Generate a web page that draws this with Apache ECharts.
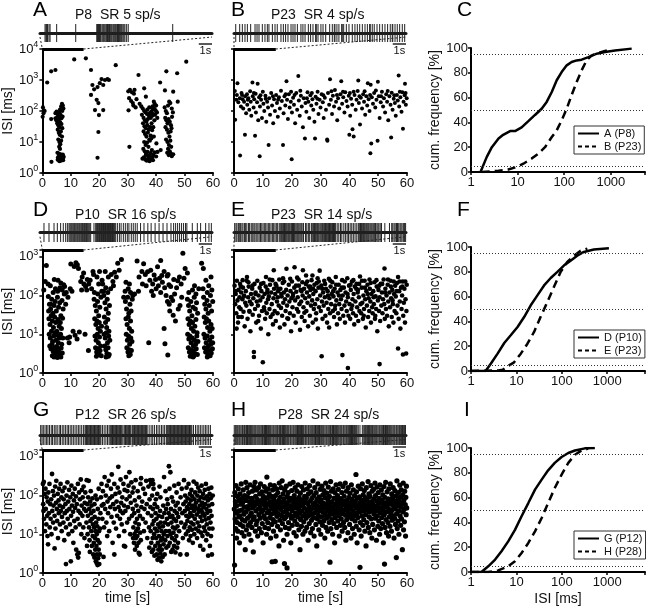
<!DOCTYPE html>
<html><head><meta charset="utf-8">
<script src="https://cdn.jsdelivr.net/npm/echarts@6/dist/echarts.min.js"></script>
<style>html,body{margin:0;padding:0;background:#fff}#c{width:648px;height:609px}</style>
</head><body><div id="c"></div>
<script>
// ---------------- DATA ----------------
const timeTicks = [0,10,20,30,40,50,60];
const refLevels = [5,50,95];
const titles = ['P8  SR 5 sp/s','P23  SR 4 sp/s','P10  SR 16 sp/s','P23  SR 14 sp/s','P12  SR 26 sp/s','P28  SR 24 sp/s'];
const letters = ['A','B','C','D','E','F','G','H','I'];
const cumNames = [['A (P8)','B (P23)'],['D (P10)','E (P23)'],['G (P12)','H (P28)']];

// scatter: [time s, ISI ms]
const scatterA = [[1.7,830],[3.1,1900],[4.6,2100],[11.2,4600],[15.3,5000],[17.1,2100],[25.8,3000],[33.8,1450],[43.6,1900],[47.4,1650],[50.6,3900],[41.4,830],[43.1,460],[46,420],[47.6,200],
[0.2,130],[0.5,105],[0.4,85],[0.1,65],[0.8,100],[3.1,55],[3.2,2.3],[4.6,58],[4.6,85],[4.9,50],
[5.0,95],[5.3,80],[5.6,70],[5.9,90],[6.2,110],[6.6,140],[6.9,170],[7.2,150],[7.4,120],[7.0,100],
[5.1,60],[5.5,55],[5.8,48],[6.1,62],[6.4,75],[6.7,58],[7.1,66],[5.2,40],[5.6,35],[6.0,30],[6.3,42],[6.7,38],[7.0,28],
[5.4,25],[5.8,20],[6.1,17],[6.5,22],[6.9,15],[5.6,12],[6.0,10],[6.3,8.5],[6.6,11],[5.9,7],[6.2,6],
[5.3,4.5],[5.5,3.2],[5.7,2.8],[5.9,3.6],[6.1,2.6],[6.3,3.1],[6.5,2.5],[6.7,3.4],[6.9,2.8],[7.1,3.0],[7.3,2.6],[7.5,3.3],[5.8,4.2],[6.4,4.0],[7.0,3.8],[6.0,2.4],[6.6,2.9],[7.2,3.9],[5.4,2.7],
[17.6,690],[19.4,590],[20.2,790],[20.8,1070],[22.0,1000],[22.9,1070],[23.4,1000],[21.4,690],[19.1,230],[19.7,180],[18.5,107],[19.9,74],[21.4,107],[19.7,21],[19.4,3.1],[17.1,330],[18.2,500],
[30.2,430],[30.8,480],[31.5,400],[32.2,360],[30.5,260],[31.2,210],[32,150],[32.8,130],[31.8,180],[33.1,240],[30.3,105],[30.6,7],[32.4,480],[35.8,540],[36.4,290],
[34.2,170],[34.8,140],[35.3,120],[35.8,100],[36.3,90],[36.8,80],[37.3,75],[37.8,85],[38.3,95],[38.8,110],[39.3,120],[39.8,105],[40.3,90],
[35,75],[35.6,60],[36.1,50],[36.6,45],[37.1,55],[37.6,65],[38.1,60],[38.6,70],[39.1,80],[39.6,75],
[35.4,40],[35.9,32],[36.4,28],[36.9,35],[37.4,25],[37.9,30],[38.4,40],[39.4,50],
[35.6,22],[36.1,18],[36.6,15],[37.1,20],[37.6,12],[38.1,16],[38.6,24],[39.0,30],
[35.8,10],[36.3,8],[36.8,9.5],[37.3,7],[37.8,11],[38.3,13],[39.2,15],[40.1,9],
[35.5,6],[36.0,5],[36.5,4.2],[37,4.8],[37.5,3.6],[38,4.4],[38.5,5.5],[39,3.9],[39.5,4.6],[40,3.4],
[35.7,3.2],[36.2,2.7],[36.7,2.5],[37.2,3.0],[37.7,2.4],[38.2,2.8],[38.7,3.3],[36.4,3.8],[37.4,3.4],[38.9,2.6],[35.2,2.9],
[38.8,140],[39.5,170],[40.0,150],[39.2,200],[36.9,110],[37.6,130],[40.4,60],[40.5,4.8],[41.6,5.5],
[43.0,130],[43.4,100],[43.8,85],[44.2,150],[44.6,200],[45.0,180],[45.5,120],[45.9,90],
[43.2,60],[43.6,50],[44.0,40],[44.4,55],[44.8,45],[45.2,35],[45.6,65],[43.3,30],[43.8,25],[44.3,20],[44.7,15],[45.1,22],[45.4,28],
[43.5,12],[44,10],[44.5,8],[45,11],[45.3,7],[44.2,6],[44.8,5],[45.2,4.2],[43.9,4.5],[44.4,3.8],[45.5,3.5],[46.0,4]];

const scatterB = [[0.3,440],[0.4,52],[1.0,330],[1.2,780],[1.5,190],[2.0,260],[2.1,3.7],[2.4,140],[2.6,380],[3.0,240],[3.2,120],[3.5,200],[3.8,17],[3.9,300],[4.2,85],[4.5,350],[4.6,160],[5.0,260],[5.3,110],[5.6,430],[5.8,200],[6.0,70],[6.4,830],[6.5,300],[6.8,130],[7.0,240],[7.3,16],[7.5,360],[7.6,90],[8.0,190],[8.2,750],[8.4,50],[8.7,280],[8.9,3.5],[9.0,140],[9.4,230],[9.7,60],[10.0,420],[10.2,170],[10.5,100],[10.9,310],[11.2,45],[11.5,200],[11.8,130],[12.0,8],[12.2,260],[12.5,75],[12.9,380],[13.2,150],[13.6,40],[13.9,240],[14.2,100],[14.6,330],[14.9,180],[15.2,65],[15.6,280],[15.9,120],[16.3,450],[16.6,210],[17.0,8],[17.2,85],[17.5,300],[17.8,150],[18.2,910],[18.4,230],[18.7,55],[19.0,350],[19.3,130],[19.7,200],[20.0,2.8],[20.1,90],[20.5,270],[20.8,160],[21.2,40],[21.6,380],[21.9,110],[22.3,1350],[22.5,220],[22.8,70],[23.2,310],[23.5,140],[23.9,30],[24.2,260],[24.6,13],[24.8,180],[25.1,95],[25.5,400],[25.8,200],[26.1,60],[26.5,320],[26.8,150],[27.2,240],[27.5,110],[27.9,45],[28.1,13],[28.3,290],[28.6,170],[29.0,420],[29.3,80],[29.7,230],[30.0,130],[30.4,350],[30.8,190],[31.1,60],[31.5,270],[31.9,110],[32.3,12],[32.4,11],[32.6,380],[33.0,160],[33.3,1050],[33.6,230],[34.0,80],[34.3,310],[34.7,140],[35.0,480],[35.4,200],[35.8,50],[36.1,260],[36.5,120],[36.9,350],[37.2,910],[37.5,170],[37.9,280],[38.3,90],[38.6,400],[39.0,210],[39.4,140],[39.8,310],[40.0,17],[40.3,70],[40.6,250],[41.0,160],[41.1,26],[41.5,15],[41.8,330],[42.2,110],[42.5,230],[42.9,440],[43.1,960],[43.3,180],[43.7,37],[44.0,270],[44.4,120],[44.8,350],[45.1,200],[45.5,75],[45.9,300],[46.2,150],[46.4,790],[46.7,240],[47.0,100],[47.3,4.3],[47.4,700],[47.6,9],[47.8,280],[48.2,170],[48.6,380],[49.0,130],[49.4,230],[49.8,11],[49.9,870],[50.2,300],[50.5,60],[50.9,190],[51.3,420],[51.7,140],[52.0,260],[52.4,90],[52.8,350],[53.1,200],[53.5,50],[53.9,300],[54.3,160],[54.5,14],[54.7,390],[55.0,110],[55.4,250],[55.8,180],[56.1,70],[56.5,330],[56.8,220],[57.1,1400],[57.3,140],[57.7,280],[58.1,95],[58.4,400],[58.6,27],[58.8,200],[59.2,320],[59.3,750],[59.6,160],[59.9,260],
[0.8,230],[2.8,330],[4.8,230],[6.9,380],[9.2,320],[11.0,250],[13.5,300],[15.3,230],[17.9,350],[19.8,420],[21.0,330],[23.0,450],[25.3,260],[27.0,380],[28.9,250],[31.0,320],[33.8,430],[35.7,330],[37.8,420],[40.2,380],[41.5,420],[43.5,300],[45.3,430],[47.2,330],[49.2,460],[51.0,300],[53.3,440],[55.6,320],[57.5,420],[59.5,380]];

const scatterD = [[2.1,95],[2.5,60],[2.9,45],[3.3,80],[3.7,35],[4.1,55],[4.5,70],[4.9,40],[5.3,90],[5.7,50],[6.1,65],[6.5,30],[6.9,75],[7.3,45],[7.7,110],
[2.3,25],[2.7,18],[3.1,30],[3.5,22],[3.9,15],[4.3,28],[4.7,20],[5.1,12],[5.5,24],[5.9,16],[6.3,20],[6.7,14],[7.1,26],
[2.4,10],[2.8,8],[3.2,12],[3.6,6.5],[4.0,9],[4.4,11],[4.8,7],[5.2,9.5],[5.6,6],[6.0,8],[6.4,10],[6.8,5.5],[7.2,8],
[2.6,5],[3.0,4.2],[3.4,5.5],[3.8,3.6],[4.2,4.5],[4.6,3.2],[5.0,4.8],[5.4,3.5],[5.8,4.0],[6.2,3.0],[6.6,4.4],[7.0,3.3],
[3.5,2.8],[4.1,2.6],[4.7,2.9],[5.3,2.5],[5.9,2.7],[6.5,2.6],[4.4,3.8],[5.6,2.9],
[2.2,40],[3.0,60],[3.8,120],[4.6,150],[5.4,130],[6.2,160],[7.0,140],[7.8,170],[8.4,120],[9.0,90],[8.2,60],[8.8,8],[9.6,8.5],
[0.5,140],[1.4,600],[2.0,200],[1.0,230],[2.8,180],[4.2,260],[5.5,250],[6.5,210],[7.5,190],[9.4,6],[10.0,650],[11.2,560],[12.7,500],[12.3,620],[11.8,700],[13.5,230],[14.0,300],[14.6,200],[15.2,170],[15.8,260],[16.3,200],[14.5,380],[16.8,250],[17.3,150],[17.8,420],[15.0,10],[16.2,3.8],[10.8,12],[11.5,9.5],[12.2,7.5],[13.0,11.5],[9.8,150],[10.4,130],[13.8,140],[15.6,140],
[18.2,80],[18.6,55],[19.0,40],[19.4,70],[19.8,30],[20.2,50],[20.6,90],[18.4,25],[18.8,18],[19.2,22],[19.6,14],[20.0,20],[20.4,12],[20.8,16],[18.5,9],[18.9,7],[19.3,10],[19.7,6],[20.1,8.5],[20.5,5],[18.7,4.5],[19.1,3.5],[19.5,4.2],[19.9,3.0],[20.3,3.8],[20.7,2.8],[19.0,2.7],[19.8,3.3],[18.3,120],[19.5,110],[20.9,130],
[21.6,100],[22.0,65],[22.4,45],[22.8,80],[23.2,35],[23.6,55],[21.8,28],[22.2,20],[22.6,15],[23.0,24],[23.4,12],[21.7,10],[22.1,8],[22.5,11],[22.9,6],[23.3,9],[23.7,7],[21.9,5],[22.3,4],[22.7,3.2],[23.1,4.5],[23.5,3],[22.4,2.6],[23.2,2.7],[21.5,130],[22.3,160],[23.0,120],
[18.0,350],[19.2,300],[20.1,420],[21.0,250],[22.1,420],[23.2,300],[24.2,350],[24.8,230],[25.4,400],[26.0,300],[25.0,180],[26.5,680],[27.8,850],[27.0,450],[24.0,150],[21.2,200],[19.8,200],
[29.2,70],[29.6,45],[30.0,90],[30.4,35],[30.8,60],[31.2,40],[31.6,80],[29.4,25],[29.8,18],[30.2,28],[30.6,14],[31.0,22],[31.4,12],[29.5,10],[29.9,7],[30.3,9],[30.7,5.5],[31.1,8],[31.5,6.5],[29.7,4.5],[30.1,3.5],[30.5,4],[30.9,3],[31.3,3.8],[30.4,2.8],[29.1,130],[30.2,150],[31.0,120],[31.8,100],[30.6,200],[29.4,220],[28.6,90],[32.4,110],
[33.3,780],[35.6,660],[37.0,410],[38.1,450],[39.3,340],[40.5,550],[41.6,800],[42.8,420],[43.9,320],[44.5,190],[45.1,170],[45.3,90],[46.0,31],[42.8,14],[43.1,5.7],[44.1,2.9],[37.4,6],[41.6,120],[34.0,300],[35.0,420],[36.2,350],[37.8,250],[38.8,200],[39.8,260],[40.8,180],[41.2,280],[42.2,220],[43.0,160],[43.5,100],[44.0,70],[44.8,40],[44.6,60],[45.8,75],[46.5,110],[47.2,160],[47.6,240],[48.2,300],[48.8,200],[49.4,1230],[49.0,90],[48.4,55],[47.8,45],[50.2,500],[51.0,380],[49.8,280],[36.5,180],[38.4,130],[39.0,100],[40.0,150],[46.8,22],[33.8,130],[35.2,200],[42.0,330],[44.2,350],[46.2,260],
[51.0,80],[51.4,55],[51.8,40],[52.2,70],[52.6,30],[53.0,50],[53.4,90],[53.8,45],[54.2,65],[54.6,35],
[51.2,25],[51.6,18],[52.0,22],[52.4,14],[52.8,20],[53.2,12],[53.6,16],[54.0,24],[54.4,11],
[51.1,10],[51.5,7.5],[51.9,9],[52.3,6],[52.7,8],[53.1,5],[53.5,7],[53.9,5.5],[54.3,9],[54.7,6.5],
[51.3,4.5],[51.7,3.5],[52.1,4],[52.5,3],[52.9,3.8],[53.3,2.8],[53.7,3.2],[54.1,4.2],[54.5,3],[52.0,2.7],[53.0,2.6],
[51.5,120],[52.8,140],[54.0,110],[55.0,150],[53.5,180],
[56.7,90],[57.1,60],[57.5,45],[57.9,75],[58.3,35],[58.7,55],[59.1,100],[59.5,40],[59.9,70],
[56.9,28],[57.3,20],[57.7,25],[58.1,15],[58.5,22],[58.9,12],[59.3,18],[59.7,14],
[56.8,10],[57.2,8],[57.6,6],[58.0,9],[58.4,5],[58.8,7],[59.2,5.5],[59.6,8.5],[59.9,6],
[57.0,4.5],[57.4,3.5],[57.8,4],[58.2,3],[58.6,3.8],[59.0,2.8],[59.4,3.3],[59.8,4.2],[58.0,2.6],
[56.0,680],[56.6,500],[57.5,250],[58.5,180],[59.3,300],[56.5,150],[58.0,120],[59.6,140]];

const scatterE = [[0.2,180],[0.4,60],[0.6,110],[0.8,35],[1.0,240],[1.2,75],[1.4,20],[1.6,140],[1.8,50],[1.9,90],[0.9,14],
[2.1,200],[2.3,45],[2.5,120],[2.7,28],[2.9,80],[3.1,160],[3.3,38],[3.5,100],[3.7,16],[3.9,65],[3.0,250],
[4.1,130],[4.3,55],[4.5,300],[4.7,25],[4.9,90],[5.1,170],[5.3,40],[5.5,70],[5.7,12],[5.9,110],[5.0,220],
[6.1,60],[6.3,150],[6.5,32],[6.7,85],[6.9,3.5],[6.9,2.6],[7.1,200],[7.3,45],[7.5,120],[7.7,20],[7.9,70],
[8.1,240],[8.3,55],[8.5,100],[8.7,30],[8.9,160],[9.1,75],[9.3,14],[9.5,130],[9.7,40],[9.9,90],[10.0,1.9],
[10.2,210],[10.4,50],[10.6,110],[10.8,25],[11.0,170],[11.2,65],[11.4,35],[11.6,140],[11.8,80],[11.9,10],[11.1,300],
[12.1,95],[12.3,45],[12.5,190],[12.7,28],[12.9,120],[13.1,60],[13.3,250],[13.5,18],[13.7,85],[13.8,450],[13.9,150],
[14.1,40],[14.3,110],[14.5,22],[14.7,180],[14.9,70],[15.1,35],[15.3,130],[15.5,55],[15.7,260],[15.9,15],[15.2,90],
[16.1,150],[16.3,48],[16.5,95],[16.7,30],[16.9,210],[17.1,65],[17.3,120],[17.5,18],[17.7,80],[17.9,40],[17.0,280],
[18.1,140],[18.2,490],[18.4,55],[18.6,100],[18.8,25],[19.0,190],[19.2,70],[19.4,35],[19.6,130],[19.8,12],[19.9,85],
[20.1,230],[20.3,50],[20.5,110],[20.7,30],[20.9,160],[21.0,540],[21.2,75],[21.4,20],[21.6,125],[21.8,45],[21.9,290],
[22.1,90],[22.3,38],[22.5,180],[22.7,60],[22.9,13],[23.1,140],[23.3,70],[23.5,28],[23.7,220],[23.9,450],[23.8,100],
[24.1,50],[24.3,150],[24.5,22],[24.7,85],[24.9,200],[25.1,40],[25.3,120],[25.5,65],[25.7,16],[25.9,170],[25.0,330],
[26.1,95],[26.3,30],[26.5,140],[26.7,55],[26.9,250],[27.1,75],[27.3,20],[27.5,110],[27.7,45],[27.9,190],[27.2,330],
[28.1,60],[28.3,130],[28.5,35],[28.7,210],[28.9,80],[29.1,14],[29.3,160],[29.5,50],[29.7,440],[29.9,100],[29.0,280],
[30.1,40],[30.3,180],[30.4,2.7],[30.5,70],[30.7,25],[30.9,120],[31.1,55],[31.3,240],[31.5,90],[31.7,30],[31.9,150],
[32.1,65],[32.3,20],[32.5,130],[32.7,45],[32.9,270],[33.1,85],[33.3,35],[33.5,170],[33.7,60],[33.9,110],[33.0,15],
[34.1,220],[34.3,40],[34.5,95],[34.7,28],[34.9,150],[35.1,55],[35.3,300],[35.5,75],[35.7,18],[35.9,120],[35.0,45],
[36.1,35],[36.3,190],[36.5,60],[36.7,25],[36.9,140],[37.1,80],[37.3,45],[37.5,250],[37.6,2.9],[37.7,100],[37.9,30],
[38.1,160],[38.3,55],[38.5,20],[38.7,120],[38.9,70],[39.1,40],[39.3,280],[39.5,1.35],[39.5,90],[39.7,30],[39.9,180],
[40.1,60],[40.3,25],[40.5,140],[40.7,45],[40.9,230],[41.1,80],[41.3,35],[41.5,110],[41.7,18],[41.9,170],[41.0,55],
[42.1,70],[42.3,30],[42.5,200],[42.7,50],[42.9,120],[43.1,22],[43.3,90],[43.5,40],[43.7,310],[43.9,60],[43.0,140],
[44.1,35],[44.3,160],[44.5,65],[44.7,25],[44.9,100],[45.1,45],[45.3,240],[45.5,80],[45.7,15],[45.9,130],[45.0,30],
[46.1,55],[46.3,190],[46.5,28],[46.7,85],[46.9,40],[47.1,150],[47.3,70],[47.5,20],[47.7,110],[47.9,50],[47.0,260],
[48.1,35],[48.3,130],[48.5,60],[48.7,220],[48.9,25],[49.1,95],[49.3,45],[49.5,170],[49.7,12],[49.9,75],[49.0,30],
[50.1,140],[50.3,40],[50.5,1.7],[50.5,90],[50.7,22],[50.9,200],[51.1,55],[51.3,120],[51.5,35],[51.7,80],[51.9,260],
[52.1,60],[52.2,500],[52.3,25],[52.5,150],[52.7,45],[52.9,100],[53.1,30],[53.3,190],[53.5,70],[53.7,16],[53.9,120],
[54.1,50],[54.3,240],[54.5,85],[54.7,28],[54.9,140],[55.1,60],[55.3,20],[55.5,110],[55.7,40],[55.9,180],[55.0,75],
[56.1,95],[56.3,35],[56.5,210],[56.7,55],[56.9,300],[56.9,4.3],[57.1,25],[57.3,130],[57.5,70],[57.7,14],[57.9,160],
[58.1,45],[58.3,100],[58.5,230],[58.6,3.0],[58.7,30],[58.9,65],[59.1,150],[59.3,20],[59.5,80],[59.7,3.2],[59.9,190],[59.8,40],
[0.5,130],[1.5,28],[2.4,170],[3.4,95],[4.4,240],[5.4,38],[6.4,180],[7.4,110],[8.4,22],[9.4,200],[10.5,42],[11.5,120],[12.4,260],[13.4,33],[14.4,200],[15.4,150],[16.4,110],[17.4,230],[18.5,26],[19.5,270],[20.4,95],[21.5,180],[22.4,260],[23.4,130],[24.4,36],[25.4,230],[26.4,170],[27.4,150],[28.4,24],[29.4,230],[30.6,150],[31.6,200],[32.6,100],[33.4,240],[34.4,130],[35.4,190],[36.4,100],[37.4,160],[38.4,230],[39.4,110],[40.4,190],[41.4,250],[42.4,150],[43.4,200],[44.4,240],[45.4,160],[46.4,110],[47.4,210],[48.4,90],[49.4,250],[50.4,180],[51.4,200],[52.4,120],[53.4,260],[54.4,170],[55.4,230],[56.4,130],[57.4,230],[58.4,170],[59.4,230]];

const scatterG = [[0.2,200],[0.3,60],[0.5,225],[0.6,25],[0.8,110],[0.9,12],[0.4,40],
[1.1,150],[1.2,45],[1.4,18],[1.5,90],[1.7,30],[1.8,9],[1.9,70],
[2.0,5.5],[2.1,120],[2.3,35],[2.5,200],[2.6,15],[2.8,60],[2.9,25],
[3.1,80],[3.2,10],[3.4,360],[3.5,40],[3.7,130],[3.8,20],[3.9,55],
[4.1,100],[4.3,4.3],[4.3,30],[4.5,170],[4.6,14],[4.8,65],[4.9,240],
[5.1,45],[5.2,22],[5.4,110],[5.5,8],[5.7,75],[5.8,35],[5.9,150],
[6.1,55],[6.2,18],[6.4,200],[6.5,40],[6.7,90],[6.8,12],[6.9,28],
[7.1,130],[7.2,50],[7.4,20],[7.5,80],[7.7,7],[7.8,160],[7.9,35],
[8.1,60],[8.3,1.7],[8.3,15],[8.5,100],[8.6,40],[8.8,220],[8.9,25],
[9.1,70],[9.2,10],[9.4,140],[9.5,45],[9.7,18],[9.8,90],[10.0,2],
[10.1,30],[10.2,180],[10.4,55],[10.5,12],[10.7,110],[10.8,38],[10.9,6],
[11.1,75],[11.2,22],[11.4,150],[11.5,48],[11.7,15],[11.8,95],[11.9,4],
[12.1,60],[12.3,3],[12.4,25],[12.5,200],[12.6,2.5],[12.7,40],[12.9,120],[12.8,3.3],
[13.1,18],[13.2,80],[13.4,35],[13.5,260],[13.7,10],[13.8,55],[13.9,140],
[14.1,30],[14.2,90],[14.4,15],[14.5,170],[14.7,45],[14.8,8],[14.9,65],
[15.1,120],[15.3,40],[15.5,20],[15.6,250],[15.8,60],[15.9,10],[15.7,5],
[16.0,30],[16.1,90],[16.3,240],[16.4,15],[16.5,45],[16.6,7],[16.8,70],[16.9,22],[16.7,3.5],
[17.0,130],[17.1,35],[17.2,12],[17.3,55],[17.4,5],[17.5,25],[17.6,85],[17.7,9],[17.8,18],[17.9,3],
[18.0,40],[18.1,6],[18.2,15],[18.3,2.5],[18.4,28],[18.5,8],[18.6,4],[18.7,12],[18.8,2],[18.9,20],[18.3,60],[18.7,100],
[19.0,5],[19.1,1.8],[19.1,10],[19.2,3],[19.3,16],[19.4,1.6],[19.5,7],[19.6,2.4],[19.7,25],[19.8,4],[19.9,12],[19.5,45],[19.2,80],[19.8,150],
[20.0,1.7],[20.1,6],[20.2,3],[20.3,14],[20.4,35],[20.6,90],[20.8,200],[20.9,55],
[21.1,25],[21.3,130],[21.5,2.6],[21.5,60],[21.7,15],[21.9,300],
[22.1,45],[22.3,100],[22.5,20],[22.7,180],[22.9,70],[22.8,9],
[23.1,35],[23.3,240],[23.5,12],[23.7,85],[23.9,50],
[24.1,150],[24.3,28],[24.5,95],[24.7,6],[24.9,60],[24.4,350],
[25.1,20],[25.3,3],[25.3,200],[25.5,45],[25.7,110],[25.9,14],
[26.1,70],[26.3,30],[26.5,160],[26.7,550],[26.8,50],[26.9,9],
[27.1,120],[27.3,25],[27.5,260],[27.7,65],[27.9,18],[27.4,40],
[28.1,90],[28.3,35],[28.5,200],[28.7,5],[28.7,55],[28.9,140],[28.8,12],
[29.1,4.8],[29.2,40],[29.4,300],[29.6,80],[29.8,20],[29.9,130],
[30.1,50],[30.3,180],[30.5,25],[30.7,95],[30.9,10],[30.6,400],
[31.1,65],[31.3,220],[31.5,30],[31.7,120],[31.9,8],[31.8,45],
[32.0,15],[32.1,160],[32.2,6],[32.3,35],[32.4,10],[32.5,75],[32.6,4],[32.7,20],[32.8,250],[32.9,8],
[33.0,12],[33.1,55],[33.2,5],[33.3,25],[33.4,9],[33.5,130],[33.6,14],[33.7,40],[33.8,6],[33.9,3.3],[33.9,18],
[34.0,90],[34.2,3],[34.3,30],[34.4,11],[34.5,200],[34.7,280],[34.8,50],[34.6,7],
[35.1,70],[35.3,25],[35.5,150],[35.7,12],[35.9,45],
[36.1,110],[36.3,20],[36.5,240],[36.7,60],[36.9,8],
[37.1,35],[37.3,170],[37.5,15],[37.7,80],[37.9,250],[37.6,4.5],
[38.0,50],[38.1,12],[38.2,200],[38.3,6],[38.4,30],[38.5,3.5],[38.6,100],[38.7,18],[38.8,8],[38.9,45],[38.7,250],
[39.0,4],[39.1,150],[39.2,22],[39.3,10],[39.4,2.8],[39.5,60],[39.6,14],[39.7,5],[39.8,35],[39.9,80],[39.0,200],
[40.0,8],[40.1,25],[40.2,3],[40.3,12],[40.4,50],[40.5,2.2],[40.6,6],[40.7,18],[40.8,4],[40.9,30],[40.4,110],
[41.0,9],[41.1,2.5],[41.2,15],[41.3,5],[41.4,40],[41.5,3.2],[41.6,20],[41.7,7],[41.8,2],[41.9,12],[41.5,90],[41.2,170],
[42.0,4],[42.1,28],[42.2,8],[42.3,2.6],[42.4,16],[42.5,55],[42.6,5.5],[42.7,10],[42.8,300],[42.9,35],
[43.0,3],[43.1,20],[43.2,7],[43.3,130],[43.4,12],[43.5,45],[43.6,4.5],[43.8,25],[43.9,80],
[44.0,9],[44.1,60],[44.2,18],[44.3,5],[44.4,35],[44.5,570],[44.6,12],[44.7,150],[44.8,6],[44.9,28],
[45.0,400],[45.1,10],[45.2,45],[45.3,3.5],[45.4,20],[45.5,90],[45.6,8],[45.7,30],[45.8,4],[45.9,15],
[46.0,70],[46.1,11],[46.2,25],[46.3,5],[46.4,180],[46.5,40],[46.6,7],[46.7,14],[46.8,3.4],[46.9,55],
[47.0,22],[47.1,9],[47.2,120],[47.3,35],[47.4,4.5],[47.5,16],[47.6,65],[47.7,6],[47.8,28],[47.9,200],
[48.1,12],[48.3,45],[48.5,3],[48.6,90],[48.8,20],[49.0,150],[49.2,35],[49.4,8],[49.6,60],[49.8,250],[49.9,15],
[50.1,40],[50.2,100],[50.3,18],[50.4,70],[50.5,10],[50.6,30],[50.7,160],[50.8,3],[50.9,50],
[51.0,22],[51.1,85],[51.2,12],[51.3,45],[51.4,200],[51.5,28],[51.6,7],[51.7,60],[51.8,15],[51.9,110],
[52.0,35],[52.1,9],[52.2,75],[52.3,20],[52.4,140],[52.5,48],[52.6,13],[52.7,95],[52.8,30],[52.9,6],
[53.0,55],[53.1,18],[53.2,230],[53.3,40],[53.4,10],[53.5,80],[53.6,25],[53.7,120],[53.8,50],[53.9,14],
[54.0,65],[54.2,200],[54.3,32],[54.4,8],[54.5,100],[54.6,20],[54.7,45],[54.8,160],[54.9,12],
[55.0,38],[55.1,75],[55.2,16],[55.3,130],[55.4,55],[55.5,5],[55.6,28],[55.7,90],[55.8,11],[55.9,42],
[56.0,180],[56.1,22],[56.2,65],[56.3,9],[56.4,35],[56.5,110],[56.6,4],[56.7,50],[56.8,15],[56.9,85],
[57.0,30],[57.1,140],[57.2,12],[57.3,60],[57.4,24],[57.5,200],[57.6,7],[57.7,45],[57.8,18],[57.9,95],
[58.0,36],[58.1,10],[58.2,75],[58.3,2.8],[58.4,150],[58.5,26],[58.6,55],[58.7,14],[58.8,110],[58.9,5],
[59.0,40],[59.1,20],[59.2,85],[59.3,9],[59.4,160],[59.5,30],[59.6,3],[59.7,60],[59.8,14],[59.9,100]];

const scatterH = [[0.1,45],[0.2,1.6],[0.3,120],[0.4,25],[0.5,70],[0.6,14],[0.7,180],[0.8,35],[0.9,8],
[1.0,55],[1.1,20],[1.2,95],[1.3,12],[1.5,150],[1.6,40],[1.7,28],[1.8,75],[1.9,6],
[2.0,30],[2.1,110],[2.2,18],[2.4,60],[2.5,200],[2.6,42],[2.7,11],[2.8,85],[2.9,24],
[3.0,65],[3.1,16],[3.2,140],[3.4,33],[3.5,9],[3.6,50],[3.7,100],[3.8,22],[3.9,4],
[4.0,75],[4.1,220],[4.2,38],[4.3,13],[4.5,160],[4.6,52],[4.7,26],[4.8,90],[4.9,17],
[5.0,45],[5.1,120],[5.2,10],[5.4,68],[5.5,30],[5.6,190],[5.7,20],[5.8,58],[5.9,7],
[6.0,35],[6.1,85],[6.2,15],[6.4,130],[6.5,48],[6.6,24],[6.7,3.5],[6.8,70],[6.9,170],
[7.0,28],[7.1,55],[7.3,220],[7.4,12],[7.5,95],[7.6,40],[7.7,18],[7.8,140],[7.9,62],
[8.0,22],[8.1,80],[8.2,9],[8.4,45],[8.5,160],[8.6,32],[8.7,70],[8.8,14],[8.9,110],
[9.0,50],[9.1,26],[9.2,200],[9.4,65],[9.5,11],[9.6,38],[9.7,125],[9.8,19],[9.9,80],
[10.0,42],[10.1,6],[10.2,95],[10.4,30],[10.5,170],[10.6,56],[10.7,15],[10.8,72],[10.9,25],
[11.0,130],[11.1,48],[11.3,10],[11.4,300],[11.5,36],[11.6,88],[11.7,20],[11.8,150],[11.9,60],
[12.0,14],[12.1,40],[12.2,110],[12.4,27],[12.5,70],[12.6,190],[12.7,8],[12.8,52],[12.9,33],
[13.0,95],[13.1,18],[13.2,1.95],[13.3,62],[13.4,140],[13.5,24],[13.6,45],[13.7,12],[13.8,80],[13.9,35],
[14.0,180],[14.1,55],[14.3,2],[14.3,21],[14.4,100],[14.5,40],[14.6,9],[14.7,66],[14.8,150],[14.9,29],
[15.0,48],[15.1,16],[15.2,120],[15.4,34],[15.5,75],[15.6,5],[15.7,210],[15.8,58],[15.9,23],
[16.0,90],[16.1,13],[16.2,44],[16.4,160],[16.5,30],[16.6,68],[16.7,240],[16.8,19],[16.9,52],
[17.0,110],[17.1,37],[17.2,7],[17.4,82],[17.5,1.75],[17.5,25],[17.6,140],[17.7,50],[17.8,15],[17.9,64],
[18.0,28],[18.1,175],[18.2,42],[18.4,1.35],[18.4,10],[18.5,95],[18.6,33],[18.7,56],[18.8,120],[18.9,20],
[19.0,72],[19.1,14],[19.2,46],[19.4,200],[19.5,31],[19.6,85],[19.7,6],[19.8,55],[19.9,26],
[20.0,135],[20.1,40],[20.2,17],[20.4,75],[20.5,220],[20.6,29],[20.7,60],[20.8,11],[20.9,100],
[21.0,48],[21.1,22],[21.2,160],[21.4,35],[21.5,80],[21.6,9],[21.7,52],[21.8,130],[21.9,18],
[22.0,65],[22.1,28],[22.2,190],[22.4,44],[22.5,13],[22.6,90],[22.7,36],[22.8,70],[22.9,4],
[23.0,115],[23.1,24],[23.2,55],[23.4,16],[23.5,170],[23.6,40],[23.7,78],[23.8,30],[23.9,10],
[24.0,60],[24.1,140],[24.2,21],[24.4,47],[24.5,95],[24.6,12],[24.7,210],[24.8,34],[24.9,68],
[25.0,26],[25.1,88],[25.2,15],[25.4,150],[25.5,42],[25.6,62],[25.7,7],[25.8,110],[25.9,30],
[26.0,52],[26.1,19],[26.2,180],[26.4,38],[26.5,72],[26.6,11],[26.7,125],[26.8,45],[26.9,23],
[27.0,85],[27.1,33],[27.2,14],[27.4,240],[27.5,58],[27.6,27],[27.7,100],[27.8,9],[27.9,48],
[28.0,160],[28.1,36],[28.2,66],[28.4,18],[28.5,120],[28.6,44],[28.7,5],[28.8,80],[28.9,25],
[29.0,54],[29.1,200],[29.2,31],[29.4,13],[29.5,92],[29.6,40],[29.7,70],[29.8,21],[29.9,145],
[30.0,46],[30.1,10],[30.2,78],[30.4,28],[30.5,175],[30.6,56],[30.7,17],[30.8,105],[30.9,37],
[31.0,64],[31.1,22],[31.2,135],[31.4,48],[31.5,8],[31.6,88],[31.7,32],[31.8,210],[31.9,15],
[32.0,58],[32.1,26],[32.2,115],[32.4,41],[32.5,12],[32.6,74],[32.7,165],[32.8,29],[32.9,50],
[33.0,20],[33.1,95],[33.3,1.9],[33.3,36],[33.4,62],[33.5,230],[33.6,14],[33.7,45],[33.8,130],[33.9,24],
[34.0,70],[34.1,33],[34.2,10],[34.4,150],[34.5,52],[34.6,19],[34.7,86],[34.8,40],[34.9,6],
[35.0,120],[35.1,27],[35.2,60],[35.4,190],[35.5,35],[35.6,15],[35.7,78],[35.8,44],[35.9,100],
[36.0,22],[36.1,55],[36.2,145],[36.4,30],[36.5,9],[36.6,68],[36.7,38],[36.8,200],[36.9,17],
[37.0,84],[37.1,46],[37.2,25],[37.4,120],[37.5,12],[37.6,58],[37.7,34],[37.8,170],[37.9,72],
[38.0,20],[38.1,42],[38.2,96],[38.4,15],[38.5,64],[38.6,210],[38.7,31],[38.8,7],[38.9,50],
[39.0,130],[39.1,24],[39.2,75],[39.4,39],[39.5,11],[39.6,160],[39.7,56],[39.8,28],[39.9,90],
[40.0,45],[40.1,18],[40.2,115],[40.4,33],[40.5,66],[40.6,8],[40.7,190],[40.8,52],[40.9,25],
[41.0,80],[41.1,14],[41.2,40],[41.4,140],[41.5,29],[41.6,60],[41.7,10],[41.8,100],[41.9,36],
[42.0,22],[42.1,70],[42.3,350],[42.3,48],[42.4,16],[42.5,125],[42.6,34],[42.7,6],[42.8,85],[42.9,55],
[43.0,27],[43.1,175],[43.2,44],[43.4,13],[43.5,92],[43.6,38],[43.7,1.4],[43.7,65],[43.8,20],[43.9,150],
[44.0,50],[44.1,9],[44.2,78],[44.4,30],[44.5,200],[44.6,58],[44.7,17],[44.8,105],[44.9,40],
[45.0,24],[45.1,68],[45.2,135],[45.4,12],[45.5,46],[45.6,88],[45.7,32],[45.8,5],[45.9,160],
[46.0,54],[46.1,20],[46.2,76],[46.4,42],[46.5,230],[46.6,15],[46.7,62],[46.8,110],[46.9,28],
[47.0,38],[47.1,11],[47.2,95],[47.4,50],[47.5,180],[47.6,25],[47.7,70],[47.8,8],[47.9,130],
[48.0,44],[48.1,18],[48.2,60],[48.4,145],[48.5,34],[48.6,82],[48.7,13],[48.8,52],[48.9,210],
[49.0,26],[49.1,100],[49.2,40],[49.4,7],[49.5,72],[49.6,165],[49.7,30],[49.8,56],[49.9,16],
[50.0,120],[50.1,45],[50.2,22],[50.4,85],[50.5,10],[50.6,190],[50.7,36],[50.8,64],[50.9,14],
[51.0,48],[51.1,140],[51.2,27],[51.4,75],[51.5,19],[51.6,105],[51.7,40],[51.8,6],[51.9,58],
[52.0,170],[52.1,32],[52.2,1.7],[52.3,90],[52.4,15],[52.5,50],[52.6,220],[52.7,24],[52.8,66],[52.9,11],
[53.0,38],[53.1,125],[53.2,56],[53.4,20],[53.5,82],[53.6,9],[53.7,150],[53.8,44],[53.9,28],
[54.0,70],[54.1,16],[54.2,200],[54.4,35],[54.5,60],[54.6,12],[54.7,110],[54.8,42],[54.9,23],
[55.0,88],[55.1,30],[55.2,160],[55.4,52],[55.5,8],[55.6,72],[55.7,26],[55.8,135],[55.9,46],
[56.0,18],[56.1,62],[56.3,2.5],[56.3,100],[56.4,34],[56.5,240],[56.6,14],[56.7,55],[56.8,80],[56.9,22],
[57.0,120],[57.1,40],[57.2,10],[57.4,68],[57.5,185],[57.6,30],[57.7,90],[57.8,17],[57.9,50],
[58.0,140],[58.1,25],[58.2,64],[58.4,4],[58.5,105],[58.6,38],[58.7,210],[58.8,13],[58.9,76],
[59.0,44],[59.1,21],[59.2,130],[59.4,58],[59.5,9],[59.6,90],[59.7,32],[59.8,175],[59.9,48]];

// spike times (s) of the example raster traces
const spikesA = [0.38,0.45,0.5,0.57,0.68,0.76,1.26,2.70,4.29,4.35,4.42,4.5,4.56,4.61,4.7,4.77,4.83,4.9,4.98,5.04,5.1,5.17,5.25,5.31,5.38,5.44,5.52,5.58,5.65,5.72,5.8,5.86,5.93,6.0,6.07,6.14,6.2,6.28,6.35,6.42,6.55,6.67,10.03];
const spikesB = [0.13,0.43,0.63,0.83,1.01,1.26,1.59,1.74,1.89,2.14,2.34,2.52,2.64,2.9,3.1,3.27,3.55,3.73,3.9,4.08,4.31,4.46,4.61,4.79,5.06,5.21,5.37,5.62,5.79,5.97,6.17,6.22,6.35,6.57,6.73,6.93,7.23,7.43,7.58,7.63,7.78,7.93,8.14,8.18,8.29,8.49,8.69,8.94,9.14,9.32,9.5,9.7,9.9,10.08,10.25,10.3,10.45,10.6,10.81,11.01,11.21,11.41,11.61,11.81,11.96,12.0,12.17,12.34,12.52,12.72,12.9];
const spikesD = [0.3,0.68,1.06,1.31,1.56,1.76,1.94,2.07,2.19,2.26,2.33,2.4,2.48,2.55,2.62,2.7,2.78,2.85,2.93,3.0,3.08,3.15,3.22,3.3,3.37,3.45,3.52,3.6,3.68,3.76,3.83,4.08,4.21,4.28,4.35,4.43,4.5,4.58,4.65,4.72,4.8,4.88,4.95,5.02,5.1,5.18,5.25,5.33,5.4,5.48,5.56,5.64,5.72,5.85,6.0,6.13,6.3,6.45,6.6,6.72,6.9,7.05,7.2,7.35,7.6,7.86,8.15,8.4,8.7,9.0,9.3,9.6,9.9,10.1,10.25,10.4,10.55,10.7,10.85,11.0,11.1,11.51,11.89,12.14,12.52,12.77,12.95];
const spikesE = [0.05,0.15,0.22,0.33,0.4,0.5,0.6,0.68,0.8,0.88,0.97,1.1,1.18,1.3,1.38,1.5,1.58,1.68,1.8,1.9,2.0,2.1,2.2,2.32,2.4,2.5,2.62,2.7,2.8,2.92,3.0,3.1,3.2,3.3,3.42,3.5,3.6,3.68,3.75,3.82,3.88,3.95,4.02,4.1,4.16,4.22,4.3,4.36,4.42,4.5,4.56,4.62,4.7,4.78,4.85,4.92,5.0,5.08,5.15,5.25,5.4,5.5,5.62,5.72,5.85,5.95,6.02,6.08,6.15,6.22,6.3,6.36,6.42,6.5,6.57,6.64,6.7,6.78,6.85,6.92,7.0,7.08,7.15,7.22,7.3,7.38,7.45,7.52,7.6,7.68,7.8,7.92,8.05,8.15,8.3,8.42,8.55,8.65,8.78,8.9,9.02,9.15,9.28,9.4,9.5,9.56,9.63,9.7,9.78,9.85,9.92,10.0,10.07,10.14,10.2,10.28,10.35,10.42,10.5,10.57,10.64,10.7,10.8,10.88,10.95,11.05,11.15,11.4,11.75,11.92,12.0,12.1,12.18,12.28,12.36,12.45,12.55,12.62,12.7,12.8,12.88,12.97];
const spikesG = [0.05,0.15,0.25,0.38,0.5,0.6,0.72,0.85,0.95,1.08,1.2,1.3,1.45,1.55,1.68,1.8,1.92,2.05,2.15,2.28,2.4,2.52,2.65,2.78,2.9,3.02,3.15,3.28,3.4,3.46,3.52,3.58,3.64,3.7,3.76,3.82,3.88,3.94,4.0,4.06,4.12,4.18,4.24,4.3,4.36,4.42,4.48,4.54,4.6,4.72,4.85,4.98,5.1,5.22,5.3,5.36,5.42,5.48,5.54,5.6,5.66,5.72,5.78,5.84,5.9,5.96,6.02,6.08,6.14,6.2,6.28,6.4,6.46,6.52,6.58,6.64,6.7,6.76,6.82,6.88,7.0,7.08,7.14,7.2,7.26,7.32,7.38,7.44,7.5,7.56,7.62,7.68,7.74,7.8,7.86,7.92,7.98,8.04,8.1,8.25,8.4,8.52,8.65,8.8,8.92,9.05,9.18,9.3,9.42,9.55,9.62,9.68,9.74,9.8,9.86,9.92,9.98,10.04,10.1,10.16,10.22,10.28,10.34,10.4,10.46,10.52,10.58,10.64,10.7,10.76,10.82,10.88,10.94,11.0,11.06,11.12,11.18,11.24,11.3,11.36,11.42,11.48,11.6,11.75,11.88,12.0,12.12,12.25,12.38,12.5,12.62,12.75,12.88];
const spikesH = [0.02,0.1,0.17,0.24,0.3,0.38,0.44,0.52,0.6,0.65,0.74,0.8,0.89,0.95,1.02,1.11,1.16,1.24,1.31,1.38,1.45,1.53,1.6,1.66,1.74,1.81,1.88,1.95,2.03,2.1,2.16,2.25,2.3,2.38,2.46,2.52,2.6,2.67,2.74,2.8,2.88,2.96,3.02,3.1,3.17,3.24,3.3,3.39,3.45,3.52,3.61,3.66,3.74,3.81,3.88,3.95,4.03,4.1,4.16,4.25,4.3,4.38,4.46,4.52,4.6,4.67,4.74,4.8,4.88,4.96,5.02,5.1,5.17,5.24,5.3,5.39,5.45,5.52,5.61,5.66,5.74,5.81,5.88,5.95,6.03,6.1,6.16,6.25,6.3,6.38,6.46,6.52,6.6,6.67,6.74,6.8,6.88,6.96,7.02,7.1,7.17,7.24,7.3,7.39,7.45,7.52,7.61,7.66,7.74,7.81,7.88,7.95,8.03,8.1,8.16,8.25,8.3,8.38,8.46,8.52,8.6,8.67,8.74,8.8,8.88,8.96,9.02,9.1,9.17,9.24,9.3,9.39,9.52,9.7,9.81,9.88,9.95,10.03,10.1,10.16,10.25,10.3,10.38,10.46,10.52,10.6,10.67,10.74,10.8,10.88,10.96,11.02,11.1,11.17,11.24,11.3,11.39,11.45,11.52,11.61,11.66,11.74,11.81,11.88,11.95,12.03,12.1,12.16,12.25,12.3,12.38,12.46,12.52,12.6,12.67,12.74,12.8,12.88,12.96];

// cumulative ISI distributions: [ISI ms, %]
const cumA = [[1.6,0],[2.17,12],[2.8,20],[3.9,27],[4.9,30],[6.9,33],[8.8,33],[12.2,36],[17,41],[23.6,46],[32.8,51],[42,56.5],[54,64.5],[69,74],[88,80.6],[113,86],[144,88.7],[185,90],[236,90.6],[330,92.7],[500,95.4],[750,96.8],[1230,98],[2800,99.5]];
const cumB = [[1.7,0],[3.9,1],[6.3,2],[9.5,4],[13.3,6.7],[20,10.8],[27.8,14.8],[38.7,20],[53.6,28],[69,33.6],[88,41.7],[113,51],[144,62],[185,72.6],[236,82],[302,90],[387,94],[540,96],[750,97.6],[955,98.7]];
const cumD = [[1,0],[2.1,0],[2.75,6],[3.85,14],[5.4,22.6],[7.5,28.8],[10.6,35.5],[14.8,43.5],[20.7,53],[29,61],[40.7,69],[57,75],[80,80],[111,85],[156,89],[218,93],[306,96],[508,98],[1090,99]];
const cumE = [[1,0],[4,0.5],[5,1],[6.4,3.8],[8.9,7],[12.5,14],[17.5,22],[24.5,31.5],[34,43.5],[48,55.6],[67,67.7],[94.5,80],[132,88],[185,93],[260,97],[365,98.7]];
const cumG = [[1,0],[1.7,0],[2.4,4.6],[3.4,10],[4.7,16.7],[6.6,24.7],[9.3,34],[13,45],[18.3,55.6],[25.7,66.4],[36,74.5],[50,82],[70,88],[99,92.7],[139,96],[195,98],[322,99.7],[535,100]];
const cumH = [[1,0],[2.4,0],[4,1.3],[6.6,4.6],[9.3,8.6],[13,15.3],[18.3,23.4],[25.7,32.8],[36,43.5],[50,55.6],[70,67.7],[99,78.5],[139,88],[195,94.6],[272,98],[380,99.5]];

// ---------------- LAYOUT / STYLE ----------------
const FONT = '"Liberation Sans", Arial, Helvetica, sans-serif';
const INK = '#111';
const colLeft = [40, 234];
const W = 173;
const rows = [
  {top:49, h:124, max:10000, rTop:24, rH:18, cumTop:48, cmax:5400, legTop:126, letterY:10, titleY:15},
  {top:250, h:123, max:1500, rTop:223, rH:19, cumTop:247, cmax:6800, legTop:330, letterY:210, titleY:215},
  {top:450, h:123, max:1500, rTop:425, rH:20, cumTop:448, cmax:6800, legTop:531, letterY:410, titleY:415}
];
const scat = [[scatterA, scatterB],[scatterD, scatterE],[scatterG, scatterH]];
const dotSize = [[4.2,4],[5,4.6],[4.8,5.2]];
const spk = [[spikesA, spikesB],[spikesD, spikesE],[spikesG, spikesH]];
const cums = [[cumA, cumB],[cumD, cumE],[cumG, cumH]];
const titleX = [[75,271],[75,271],[75,278]];
const RASTER_MAX = 13, BAR_END = 14.5;

function isPow10(v){ const l = Math.log10(v); return Math.abs(l - Math.round(l)) < 1e-6; }
function supLabel(v){ if(!isPow10(v)) return ''; return '10{s|' + Math.round(Math.log10(v)) + '}'; }
const axLine = {lineStyle:{color:'#000', width:2}, onZero:false};
const axTick = {length:3, lineStyle:{color:'#000', width:1.5}};
const lbl = {fontFamily:FONT, fontSize:13, color:INK};
const nameStyle = {fontFamily:FONT, fontSize:14, color:INK};

const grids=[], xAxis=[], yAxis=[], series=[], legend=[];
const scatGrid=[], rastGrid=[];
function addGrid(g){ grids.push(g); return grids.length-1; }

rows.forEach((R, r) => {
  scatGrid[r]=[]; rastGrid[r]=[];
  for (let c=0;c<2;c++){
    const gi = addGrid({left:colLeft[c], top:R.top, width:W, height:R.h});
    scatGrid[r][c]=gi;
    xAxis.push({type:'value', gridIndex:gi, min:timeTicks[0], max:timeTicks[timeTicks.length-1], interval:10,
      axisLine:axLine, axisTick:axTick, axisLabel:Object.assign({margin:4}, lbl), splitLine:{show:false},
      name: r===2?'time [s]':'', nameLocation:'middle', nameGap:18, nameTextStyle:nameStyle});
    yAxis.push({type:'log', logBase:10, gridIndex:gi, min:1, max:R.max,
      axisLine:axLine, axisTick:axTick,
      axisLabel:Object.assign({show:c===0, margin:4, formatter:supLabel,
        rich:{s:{fontFamily:FONT, fontSize:9, color:INK, padding:[0,0,8,0]}}}, lbl),
      splitLine:{show:false}, name: c===0?'ISI [ms]':'', nameLocation:'middle', nameGap:27, nameTextStyle:nameStyle});
    series.push({type:'scatter', xAxisIndex:gi, yAxisIndex:gi, data:scat[r][c], symbolSize:dotSize[r][c],
      itemStyle:{color:'#000', opacity:1}, silent:true,
      markLine:{silent:true, symbol:['none','none'], label:{show:false},
        lineStyle:{color:'#000', width:3, type:'solid'},
        data:[[{coord:[0,R.max]},{coord:[BAR_END,R.max]}]]}});
  }
  for (let c=0;c<2;c++){
    const gi = addGrid({left:colLeft[c], top:R.rTop, width:W-1, height:R.rH});
    rastGrid[r][c]=gi;
    xAxis.push({type:'value', gridIndex:gi, min:0, max:RASTER_MAX, axisLine:{onZero:true, lineStyle:{color:'#1a1a1a', width:3}},
      axisTick:{show:false}, axisLabel:{show:false}, splitLine:{show:false}});
    yAxis.push({type:'value', gridIndex:gi, min:-1, max:1, show:false, splitLine:{show:false}});
    series.push({type:'custom', xAxisIndex:gi, yAxisIndex:gi, silent:true,
      data: spk[r][c].map(t=>[t,0]),
      renderItem:(params, api)=>{
        const p1 = api.coord([api.value(0), -1]);
        const p2 = api.coord([api.value(0), 1]);
        return {type:'line', shape:{x1:p1[0], y1:p1[1], x2:p2[0], y2:p2[1]}, style:{stroke:'#222', lineWidth:1}};
      }});
  }
  // cumulative plot
  const gi = addGrid({left:471, top:R.cumTop, width:174, height:124});
  xAxis.push({type:'log', logBase:10, gridIndex:gi, min:1, max:R.cmax, axisLine:axLine, axisTick:axTick,
    axisLabel:Object.assign({margin:4, formatter:v=>isPow10(v)?String(Math.round(v)):''}, lbl), splitLine:{show:false},
    name: r===2?'ISI [ms]':'', nameLocation:'middle', nameGap:20, nameTextStyle:nameStyle});
  yAxis.push({type:'value', gridIndex:gi, min:0, max:100, interval:20, axisLine:axLine, axisTick:axTick,
    axisLabel:Object.assign({margin:3}, lbl), splitLine:{show:false},
    name:'cum. frequency [%]', nameLocation:'middle', nameGap:29, nameTextStyle:nameStyle});
  cums[r].forEach((d, k) => {
    const s = {type:'line', name:cumNames[r][k], xAxisIndex:gi, yAxisIndex:gi, data:d, symbol:'none', silent:true,
      lineStyle:{color:'#000', width:2.5, type: k===0?'solid':[8,5]}, itemStyle:{color:'#000'}};
    if (k===0) s.markLine = {silent:true, symbol:['none','none'], label:{show:false},
      lineStyle:{color:'#333', width:1, type:[1,2]}, data: refLevels.map(v=>({yAxis:v}))};
    series.push(s);
  });
  legend.push({data:cumNames[r].map((n,k)=>({name:n, itemStyle:{opacity:0, borderWidth:0},
      lineStyle:{color:'#000', width:2, type: k===0?'solid':[4,3], opacity:1}})),
    orient:'vertical', left:574, top:R.legTop, selectedMode:false,
    itemWidth:21, itemHeight:8, itemGap:2, padding:[2,3,2,3], borderColor:'#333', borderWidth:1,
    textStyle:{fontFamily:FONT, fontSize:11, color:INK}});
});

const chart = echarts.init(document.getElementById('c'));
chart.setOption({animation:false, backgroundColor:'#fff', grid:grids, xAxis, yAxis, series, legend});

// ---------------- annotations ----------------
const gfx = [];
const letterX = [33, 231, 457];
rows.forEach((R, r) => {
  for (let c=0;c<3;c++){
    gfx.push({type:'text', x: r===2 && c===2 ? 464 : letterX[c], y:R.letterY,
      style:{text:letters[r*3+c], fontFamily:FONT, fontSize:21, fill:'#000', verticalAlign:'middle'}});
  }
  for (let c=0;c<2;c++){
    gfx.push({type:'text', x:titleX[r][c], y:R.titleY,
      style:{text:titles[r*2+c], fontFamily:FONT, fontSize:14, fill:INK, verticalAlign:'middle'}});
    const sg = scatGrid[r][c], rg = rastGrid[r][c];
    const b0 = chart.convertToPixel({gridIndex:sg}, [0, R.max]);
    const b1 = chart.convertToPixel({gridIndex:sg}, [BAR_END, R.max]);
    const rl = chart.convertToPixel({gridIndex:rg}, [0, -0.45]);
    const rr = chart.convertToPixel({gridIndex:rg}, [RASTER_MAX, -0.45]);
    const dot = {stroke:'#222', lineWidth:1, lineDash:[2,2]};
    gfx.push({type:'line', shape:{x1:rl[0], y1:rl[1], x2:b0[0], y2:b0[1]}, style:dot});
    gfx.push({type:'line', shape:{x1:b1[0], y1:b1[1], x2:rr[0], y2:rr[1]}, style:dot});
    const s0 = chart.convertToPixel({gridIndex:rg}, [RASTER_MAX-1, -1]);
    const s1 = chart.convertToPixel({gridIndex:rg}, [RASTER_MAX, -1]);
    gfx.push({type:'line', shape:{x1:s0[0], y1:s0[1]+2, x2:s1[0], y2:s1[1]+2}, style:{stroke:'#000', lineWidth:1.3}});
    gfx.push({type:'text', x:(s0[0]+s1[0])/2, y:s0[1]+3,
      style:{text:'1s', fontFamily:FONT, fontSize:11, fill:INK, align:'center', verticalAlign:'top'}});
  }
});
chart.setOption({graphic:{elements:gfx}});
</script>
</body></html>
